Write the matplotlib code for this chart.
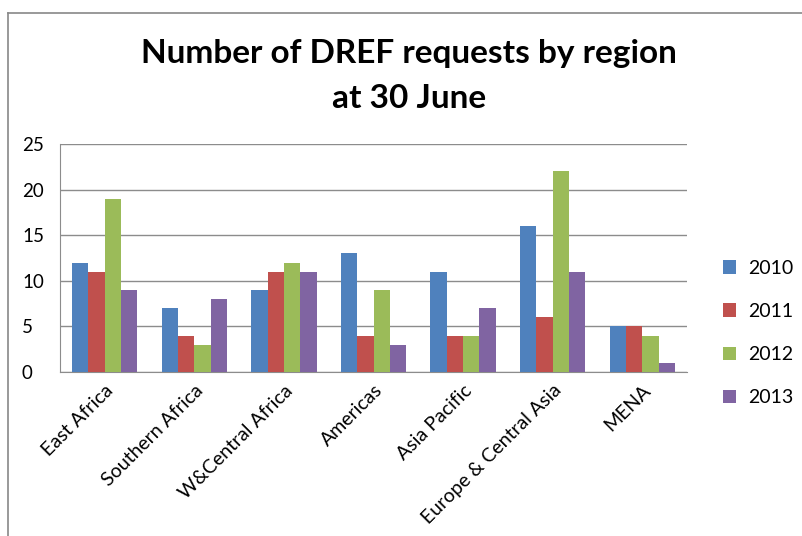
import matplotlib
matplotlib.use("Agg")
import matplotlib.pyplot as plt
import numpy as np
from matplotlib.lines import Line2D

categories = ["East Africa", "Southern Africa", "W&Central Africa", "Americas",
              "Asia Pacific", "Europe & Central Asia", "MENA"]
years = ["2010", "2011", "2012", "2013"]
v2010 = [12, 7, 9, 13, 11, 16, 5]
v2011 = [11, 4, 11, 4, 4, 6, 5]
v2012 = [19, 3, 12, 9, 4, 22, 4]
v2013 = [9, 8, 11, 3, 7, 11, 1]
series = [v2010, v2011, v2012, v2013]
colors = ["#4F81BD", "#C0504D", "#9BBB59", "#8064A2"]

plt.rcParams['font.family'] = ['Lato', 'DejaVu Sans']

W, H = 802, 536
fig = plt.figure(figsize=(W / 100, H / 100), dpi=100)

# chart border (extends beyond image on right/bottom)
fig.add_artist(Line2D([8 / W, 8 / W], [0, 1 - 13 / H], transform=fig.transFigure,
                      color="#888888", lw=1.2))
fig.add_artist(Line2D([8 / W, 1], [1 - 13 / H, 1 - 13 / H], transform=fig.transFigure,
                      color="#888888", lw=1.2))

left, right, top, bottom = 60, 687, 144, 372
ax = fig.add_axes([left / W, 1 - bottom / H, (right - left) / W, (bottom - top) / H])

x = np.arange(len(categories))
bw = 0.182
for i, (vals, c, yr) in enumerate(zip(series, colors, years)):
    ax.bar(x + (i - 1.5) * bw, vals, width=bw, color=c, label=yr, zorder=3)

ax.set_xlim(-0.5, len(categories) - 0.5)
ax.set_ylim(0, 25)
ax.set_yticks([0, 5, 10, 15, 20, 25])
ax.yaxis.grid(True, color="#8c8c8c", lw=1)
ax.set_axisbelow(True)
for s in ["right", "top"]:
    ax.spines[s].set_visible(False)
for s in ["left", "bottom"]:
    ax.spines[s].set_color("#8c8c8c")
ax.tick_params(axis="y", length=0, labelsize=13.5, pad=27.4)
ax.tick_params(axis="x", length=0, labelsize=14, pad=7)
ax.set_xticks(x)
ax.set_xticklabels(categories, rotation=45, ha="right", rotation_mode="anchor")
for lbl in ax.get_yticklabels():
    lbl.set_horizontalalignment("left")

fig.text(409 / W, 1 - 54 / H, "Number of DREF requests by region", ha="center",
         va="center", fontsize=24, fontweight="bold")
fig.text(409 / W, 1 - 98 / H, "at 30 June", ha="center", va="center",
         fontsize=24, fontweight="bold")

leg = ax.legend(loc="center left", bbox_to_anchor=(705 / W, 1 - 333 / H),
                bbox_transform=fig.transFigure, frameon=False, fontsize=14,
                handlelength=0.7, handleheight=0.7, labelspacing=1.35,
                handletextpad=0.6)

fig.savefig("out.png", dpi=100)
